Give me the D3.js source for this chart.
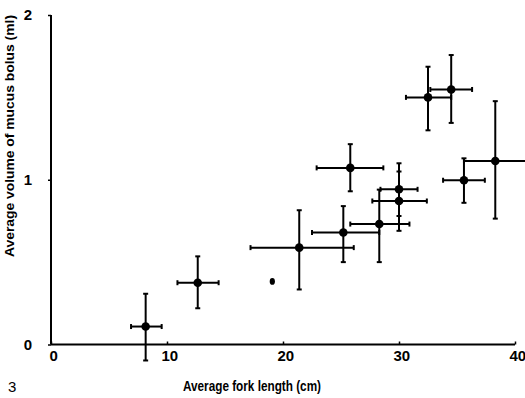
<!DOCTYPE html>
<html>
<head>
<meta charset="utf-8">
<script src="https://cdn.jsdelivr.net/npm/d3@7"></script>
<style>
  html, body { margin: 0; padding: 0; background: #fff; }
  svg { display: block; }
  text { font-family: "Liberation Sans", Arial, Helvetica, sans-serif; fill: #000; }
</style>
</head>
<body>
<svg id="chart" width="525" height="398"></svg>
<script>
// Fork length (cm): mean, lower and upper error
const lengths   = [8.16, 12.65, 21.4, 25.2, 28.3, 30.0, 30.0, 25.8, 32.5, 34.5, 35.6, 38.3];
const lengthLo  = [6.9, 10.9, 17.2, 22.5, 25.8, 27.7, 28.4, 22.9, 30.6, 32.7, 33.8, 35.6];
const lengthHi  = [9.54, 14.45, 26.1, 28.3, 30.9, 32.4, 31.6, 28.65, 34.5, 36.3, 37.4, 41.0];
// Mucus bolus volume (ml): mean, lower and upper error
const volumes   = [0.109, 0.375, 0.588, 0.68, 0.731, 0.871, 0.942, 1.072, 1.50, 1.548, 0.997, 1.114];
const volumeLo  = [-0.097, 0.22, 0.334, 0.50, 0.50, 0.69, 0.78, 0.93, 1.30, 1.345, 0.86, 0.764];
const volumeHi  = [0.308, 0.535, 0.815, 0.84, 0.94, 1.05, 1.10, 1.216, 1.686, 1.757, 1.13, 1.477];
// Single observation without error bars
const singleLength = [19.08];
const singleVolume = [0.383];

const xTicks = [0, 10, 20, 30, 40];
const yTicks = [0, 1, 2];
const xTitle = "Average fork length (cm)";
const yTitle = "Average volume of mucus bolus (ml)";
const panelLabel = "3";

const svg = d3.select("#chart");
const x = d3.scaleLinear().domain([0, 40]).range([51, 515]);
const y = d3.scaleLinear().domain([0, 2]).range([344.5, 15]);

// Axes
const xAxis = d3.axisBottom(x).tickValues(xTicks).tickSize(-3).tickPadding(6).tickFormat(d3.format("d"));
const yAxis = d3.axisLeft(y).tickValues(yTicks).tickSize(3).tickPadding(16).tickFormat(d3.format("d"));

const gx = svg.append("g").attr("transform", `translate(0,${y(0)})`).call(xAxis);
const gy = svg.append("g").attr("transform", `translate(${x(0)},0)`).call(yAxis);

[gx, gy].forEach(g => {
  g.select(".domain").attr("stroke", "#000").attr("stroke-width", 2);
  g.selectAll(".tick line").attr("stroke", "#000").attr("stroke-width", 1.5);
  g.selectAll(".tick text")
    .attr("font-family", '"Liberation Sans", Arial, sans-serif')
    .attr("font-weight", "bold")
    .attr("font-size", 15)
    .attr("fill", "#000");
});
gx.select(".domain").attr("d", `M${x(0)},0H${x(40)}`);
gy.select(".domain").attr("d", `M0,${y(0)}V${y(2)}`);
gx.selectAll(".tick text").attr("dy", "0.72em").attr("dx", "0.15em");
gy.selectAll(".tick text").attr("text-anchor", "end");

// Data
const idx = d3.range(lengths.length);
const bars = svg.append("g").attr("stroke", "#000").attr("stroke-width", 2).attr("fill", "none");
const cap = 2.5;

// horizontal error bars
bars.selectAll("line.h").data(idx).join("line").attr("class", "h")
  .attr("x1", i => x(lengthLo[i])).attr("x2", i => x(lengthHi[i]))
  .attr("y1", i => y(volumes[i])).attr("y2", i => y(volumes[i]));
bars.selectAll("line.hl").data(idx).join("line").attr("class", "hl")
  .attr("x1", i => x(lengthLo[i])).attr("x2", i => x(lengthLo[i]))
  .attr("y1", i => y(volumes[i]) - cap).attr("y2", i => y(volumes[i]) + cap);
bars.selectAll("line.hr").data(idx).join("line").attr("class", "hr")
  .attr("x1", i => x(lengthHi[i])).attr("x2", i => x(lengthHi[i]))
  .attr("y1", i => y(volumes[i]) - cap).attr("y2", i => y(volumes[i]) + cap);
// vertical error bars
bars.selectAll("line.v").data(idx).join("line").attr("class", "v")
  .attr("x1", i => x(lengths[i])).attr("x2", i => x(lengths[i]))
  .attr("y1", i => y(volumeLo[i])).attr("y2", i => y(volumeHi[i]));
bars.selectAll("line.vb").data(idx).join("line").attr("class", "vb")
  .attr("x1", i => x(lengths[i]) - cap).attr("x2", i => x(lengths[i]) + cap)
  .attr("y1", i => y(volumeLo[i])).attr("y2", i => y(volumeLo[i]));
bars.selectAll("line.vt").data(idx).join("line").attr("class", "vt")
  .attr("x1", i => x(lengths[i]) - cap).attr("x2", i => x(lengths[i]) + cap)
  .attr("y1", i => y(volumeHi[i])).attr("y2", i => y(volumeHi[i]));

// means
svg.append("g").selectAll("circle").data(idx).join("circle")
  .attr("cx", i => x(lengths[i])).attr("cy", i => y(volumes[i]))
  .attr("r", 4.3).attr("fill", "#000");

svg.append("g").selectAll("ellipse").data(d3.range(singleLength.length)).join("ellipse")
  .attr("cx", i => x(singleLength[i])).attr("cy", i => y(singleVolume[i]))
  .attr("rx", 2.6).attr("ry", 3.4).attr("fill", "#000");

// Titles
svg.append("text")
  .attr("x", 252).attr("y", 391)
  .attr("text-anchor", "middle")
  .attr("font-weight", "bold").attr("font-size", 14)
  .attr("textLength", 138).attr("lengthAdjust", "spacingAndGlyphs")
  .text(xTitle);

svg.append("text")
  .attr("transform", "translate(14,136) rotate(-90)")
  .attr("text-anchor", "middle")
  .attr("font-weight", "bold").attr("font-size", 13)
  .attr("textLength", 242).attr("lengthAdjust", "spacingAndGlyphs")
  .text(yTitle);

svg.append("text")
  .attr("x", 8).attr("y", 392)
  .attr("font-size", 15)
  .text(panelLabel);
</script>
</body>
</html>
